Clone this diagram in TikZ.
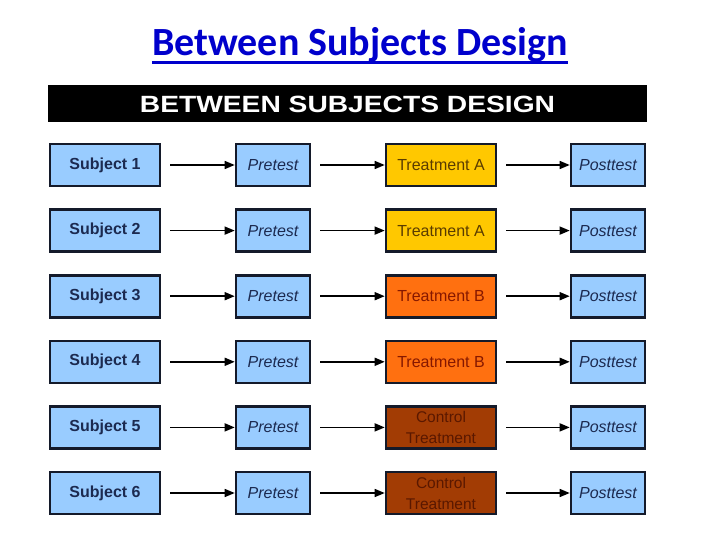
\documentclass[tikz,border=0pt]{standalone}
\usepackage{fontspec}
\setmainfont{Liberation Sans}
\newfontfamily\titlefont{Carlito}
\newfontfamily\hdrfont[FakeStretch=1.2]{Liberation Sans Bold}
\usetikzlibrary{arrows.meta}
\definecolor{boxblue}{HTML}{99CCFF}
\definecolor{boxedge}{HTML}{141A2A}
\definecolor{bluetext}{HTML}{1C2A50}
\definecolor{yellowfill}{HTML}{FFC800}
\definecolor{yellowtext}{HTML}{5A3C00}
\definecolor{orangefill}{HTML}{FF7010}
\definecolor{orangetext}{HTML}{861800}
\definecolor{brownfill}{HTML}{A23C04}
\definecolor{browntext}{HTML}{5A1800}
\definecolor{titleblue}{HTML}{0000CC}
\tikzset{
  basebox/.style={draw=boxedge, line width=2.6pt, minimum height=42pt, inner sep=0pt, align=center, font=\fontsize{16}{19}\selectfont},
  subjbox/.style={basebox, fill=boxblue, minimum width=110pt, text=bluetext, font=\fontsize{16}{19}\selectfont\bfseries},
  testbox/.style={basebox, fill=boxblue, minimum width=74pt, text=bluetext, font=\fontsize{16}{19}\selectfont\itshape},
  treatA/.style={basebox, fill=yellowfill, minimum width=110pt, text=yellowtext},
  treatB/.style={basebox, fill=orangefill, minimum width=110pt, text=orangetext},
  treatC/.style={basebox, fill=brownfill, minimum width=110pt, text=browntext, font=\fontsize{15.5}{21}\selectfont},
  flow/.style={line width=1.5pt, -{Triangle[length=10pt,width=8pt]}, shorten <=9pt}
}
\begin{document}
\begin{tikzpicture}[x=1pt,y=-1pt]
\useasboundingbox (0,0) rectangle (720,540);
\node[font=\titlefont\fontsize{40}{46}\selectfont\bfseries, text=titleblue, inner sep=0pt, anchor=base] (title) at (360,56) {Between Subjects Design};
\draw[titleblue, line width=2.2pt] ([yshift=-6.5pt]title.base west) -- ([yshift=-6.5pt]title.base east);
\node[fill=black, minimum width=599pt, minimum height=37pt, inner sep=0pt, anchor=north west] (hdr) at (48,85) {};
\node[text=white, font=\hdrfont\fontsize{23.5}{26}\selectfont, inner sep=0pt] (hdrtext) at (347.5,104) {BETWEEN SUBJECTS DESIGN};
\foreach \i/\tstyle/\ttext in {1/treatA/{Treatment A},2/treatA/{Treatment A},3/treatB/{Treatment B},4/treatB/{Treatment B},5/treatC/{Control\\Treatment},6/treatC/{Control\\Treatment}}{
  \pgfmathsetmacro{\yy}{165+65.6*(\i-1)}
  \node[subjbox] (s\i) at (105,\yy) {Subject \i};
  \node[testbox] (p\i) at (273,\yy) {Pretest};
  \node[\tstyle] (t\i) at (441,\yy) {\ttext};
  \node[testbox] (q\i) at (608,\yy) {Posttest};
  \draw[flow] (s\i) -- (p\i);
  \draw[flow] (p\i) -- (t\i);
  \draw[flow] (t\i) -- (q\i);
}
\end{tikzpicture}
\end{document}
